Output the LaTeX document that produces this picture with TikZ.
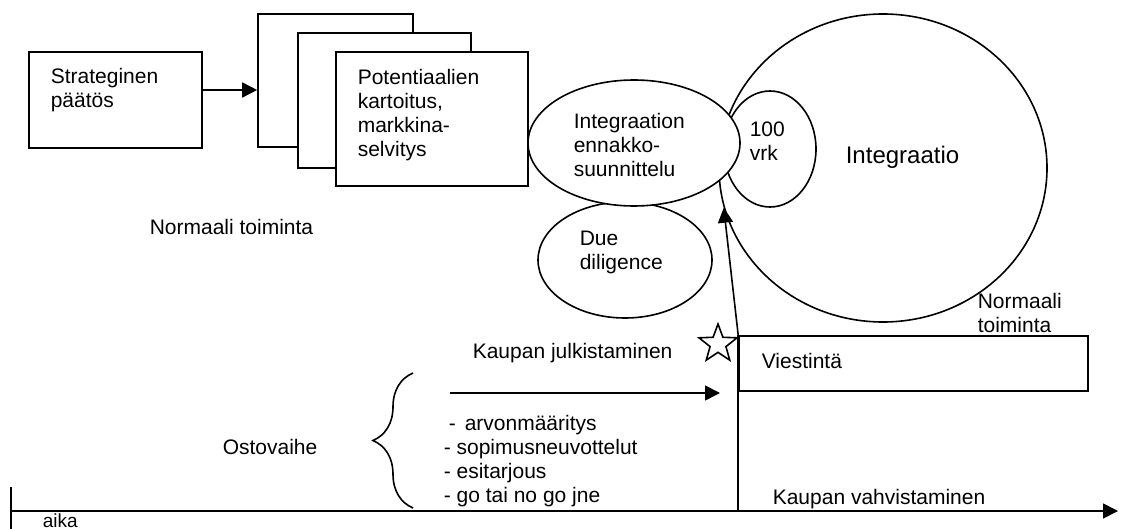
\documentclass[tikz,border=0pt]{standalone}
\usepackage{fontspec}
\setmainfont{Liberation Sans}
\usetikzlibrary{shapes.geometric,arrows.meta,decorations.pathreplacing}

\begin{document}
\begin{tikzpicture}[x=0.5pt,y=-0.5pt,line width=0.8pt,
    arr/.style={-{Triangle[length=7.5pt,width=7.5pt]}}]
  \useasboundingbox (0,0) rectangle (1133,529);

        \begin{scope}[every node/.style={rectangle,draw,fill=white,inner sep=0pt}]
          \node[minimum width=86.5pt,minimum height=48pt]   (strat) at (115.5,100) {};
          \node[minimum width=77.5pt,minimum height=66.5pt] (pot3)  at (335.5,80.5) {};
          \node[minimum width=86.5pt,minimum height=67.5pt] (pot2)  at (384.5,100.5) {};
          \node[minimum width=96pt,minimum height=67pt]     (pot1)  at (432,119) {};
          \node[minimum width=174.5pt,minimum height=27.5pt] (viest) at (913.5,363.5) {};
        \end{scope}

        \begin{scope}[every node/.style={ellipse,draw,fill=white,inner sep=0pt}]
          \node[minimum width=164pt,minimum height=154pt] (big)   at (883,168) {};
          \node[minimum width=46pt,minimum height=58pt]   (vrk)   at (770,149) {};
          \node[minimum width=87pt,minimum height=58pt]   (due)   at (625,260) {};
          \node[minimum width=106pt,minimum height=63pt]  (integ) at (634,143) {};
        \end{scope}

        \node[star,star points=5,star point ratio=2.4,draw,fill=white,
              minimum size=20pt,inner sep=0pt] (star) at (718,344) {};

        \begin{scope}[every node/.style={anchor=north west,inner sep=0pt,align=left,
                      font=\fontsize{10.5}{12}\selectfont}]
          \node (strattxt) at (50,67)   {Strateginen\\päätös};
          \node (pottxt)   at (357,68)  {Potentiaalien\\kartoitus,\\markkina-\\selvitys};
          \node (integtxt) at (573,112) {Integraation\\ennakko-\\suunnittelu};
          \node (vrktxt)   at (749,121) {100\\vrk};
          \node (duetxt)   at (579,230) {Due\\diligence};
          \node[font=\fontsize{12}{14}\selectfont] (bigtxt) at (845,145) {Integraatio};
          \node (normal1)  at (149,218) {Normaali toiminta};
          \node (normal2)  at (977,292) {Normaali\\toiminta};
          \node (viesttxt) at (761,352) {Viestintä};
          \node (julk)     at (472,342) {Kaupan julkistaminen};
          \node (osto)     at (222,438) {Ostovaihe};
          \node (steps)    at (443,414) {\hspace*{2.5pt}-\hspace{4.5pt}arvonmääritys\\- sopimusneuvottelut\\- esitarjous\\- go tai no go jne};
          \node (vahv)     at (772,488) {Kaupan vahvistaminen};
          \node[font=\fontsize{9.5}{11}\selectfont] (aika) at (42,512.5) {aika};
        \end{scope}

        % time axis
        \coordinate (t0) at (11,511);
        \coordinate (t1) at (1118,511);
        \coordinate (tick) at (11,487);
        \coordinate (tickend) at (11,529);
        \coordinate (b0) at (450,393);
        \coordinate (b1) at (720,393);

        \draw[arr] ([yshift=5pt]strat.east) -- ([yshift=5pt]strat.east -| pot3.west);
        \draw[arr] (t0) -- (t1);
        \draw (tick) -- (tickend);
        \draw[arr] (b0) -- (b1);
        \draw (viest.north west) -- (viest.north west |- t0);
        \draw[arr] (viest.north west) -- (big.194);
        \draw[decorate,decoration={brace,amplitude=20pt}] (413,508) -- (413,373);

      \end{tikzpicture}
\end{document}
